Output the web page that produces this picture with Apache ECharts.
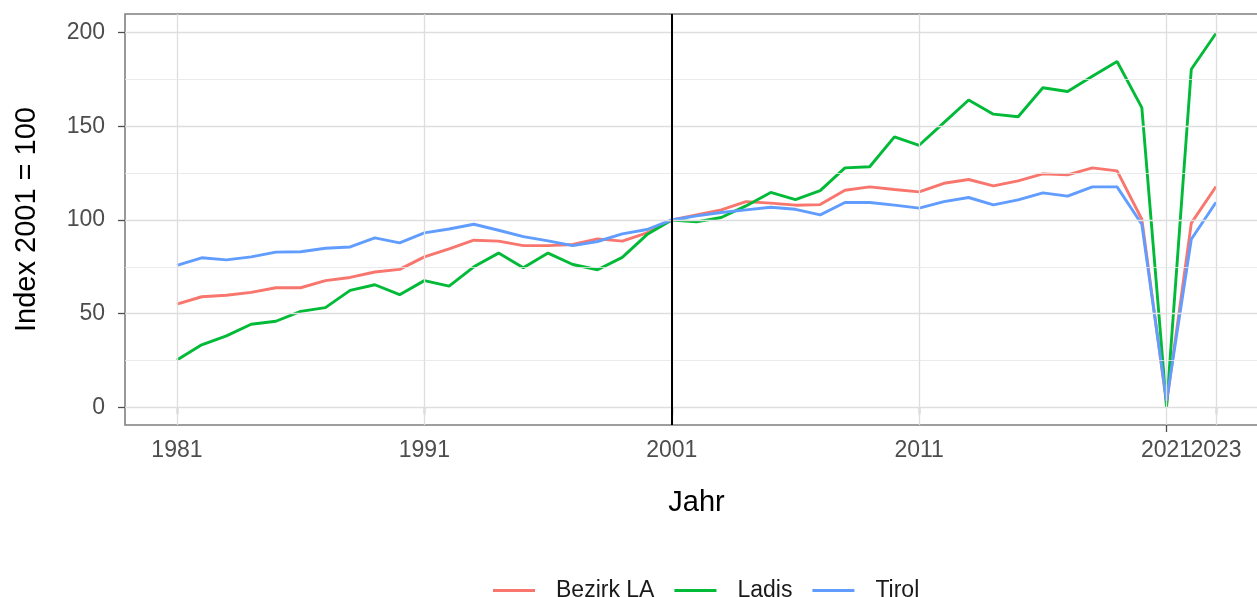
<!DOCTYPE html>
<html>
<head>
<meta charset="utf-8">
<script src="https://cdn.jsdelivr.net/npm/echarts@6/dist/echarts.min.js"></script>
<style>html,body{margin:0;padding:0;background:#fff}#c{width:1257px;height:597px}</style>
</head>
<body>
<div id="c"></div>
<script>
const years = [1981,1982,1983,1984,1985,1986,1987,1988,1989,1990,1991,1992,1993,1994,1995,1996,1997,1998,1999,2000,
  2001,2002,2003,2004,2005,2006,2007,2008,2009,2010,2011,2012,2013,2014,2015,2016,2017,2018,2019,2020,2021,2022,2023];
const bezirkLA = [55.0,59.0,59.8,61.3,63.8,63.8,67.6,69.3,72.2,73.6,80.3,84.6,89.2,88.7,86.3,86.3,86.9,89.9,88.7,93.1,
  100,102.7,105.4,109.8,109.0,107.9,108.2,115.9,117.7,116.3,115.0,119.6,121.6,118.2,120.9,124.6,124.1,127.8,126.2,100.4,1.8,98.3,117.9];
const ladis = [25.2,33.3,38.1,44.3,45.9,51.2,53.2,62.4,65.4,60.1,67.6,64.7,75.0,82.3,74.5,82.3,76.2,73.4,80.0,92.2,
  100,99.0,101.3,107.5,114.7,110.9,115.7,127.8,128.4,144.4,139.9,152.0,164.1,156.5,155.1,170.6,168.6,176.8,184.6,160.0,0,180.5,199.7];
const tirol = [75.7,79.8,78.7,80.3,82.8,83.0,84.9,85.6,90.4,87.8,93.1,95.2,97.7,94.5,91.1,88.8,86.3,88.5,92.6,94.9,
  100,102.2,104.0,105.4,106.8,105.7,102.7,109.3,109.3,107.9,106.3,109.8,112.0,108.1,110.7,114.5,112.7,117.7,117.7,97.7,3.4,89.7,109.5];
const xTicks = [1981,1991,2001,2011,2021,2023];
const xTicksMain = [1981,1991,2001,2011,2023];
const xTicksExtra = [2021];
const yTicks = [0,50,100,150,200];
const yMinor = [25,75,125,175];
const refYear = 2001;

const seriesNames = ['Bezirk LA','Ladis','Tirol'];
const seriesValues = [bezirkLA, ladis, tirol];
const colors = ['#F8766D','#00BA38','#619CFF'];
const FONT = "'Liberation Sans', Arial, sans-serif";

const chart = echarts.init(document.getElementById('c'), null, {renderer:'canvas'});

const gridLines = [];
xTicks.forEach(v => gridLines.push({xAxis:v, lineStyle:{color:'#dedede', width:1.3, type:'solid'}}));
yTicks.forEach(v => gridLines.push({yAxis:v, lineStyle:{color:'#dedede', width:1.3, type:'solid'}}));
yMinor.forEach(v => gridLines.push({yAxis:v, lineStyle:{color:'#e6e6e6', width:0.8, type:'solid'}}));

const series = [{
  name:'_grid', type:'line', data:[], z:1, silent:true,
  markLine:{silent:true, symbol:['none','none'], label:{show:false}, animation:false, data:gridLines}
},{
  name:'_ref', type:'line', data:[], z:2, silent:true,
  markLine:{silent:true, symbol:['none','none'], label:{show:false}, animation:false,
    data:[{xAxis:refYear, lineStyle:{color:'#000', width:2, type:'solid'}}]}
}];
seriesNames.forEach((n,i) => {
  series.push({
    name:n, type:'line', z:3, symbol:'none', showSymbol:false,
    data: years.map((y,k) => [y, seriesValues[i][k]]),
    lineStyle:{color:colors[i], width:2.9}, itemStyle:{color:colors[i]},
    animation:false
  });
});

function xAxisDef(ticks, withName){
  return {
    type:'value', min:1978.9, max:2025.1, position:'bottom', offset:0,
    name: withName ? 'Jahr' : '', nameLocation:'middle', nameGap:63,
    nameTextStyle:{fontFamily:FONT, fontSize:29, color:'#000'},
    axisLine:{show:false},
    axisTick:{show:true, length:7, customValues:ticks, lineStyle:{color:'#4d4d4d', width:1.3}},
    axisLabel:{customValues:ticks, margin:14, hideOverlap:false,
      fontFamily:FONT, fontSize:23, color:'#4d4d4d', formatter:v=>String(v)},
    splitLine:{show:false}
  };
}

chart.setOption({
  animation:false,
  backgroundColor:'#fff',
  grid:{left:125, right:-11, top:14, bottom:172, outerBoundsMode:'none', containLabel:false,
    show:true, borderColor:'#7f7f7f', borderWidth:1.6, backgroundColor:'transparent'},
  legend:{
    data:seriesNames, left:488, top:574, icon:'rect', itemWidth:42, itemHeight:3, itemGap:20,
    textStyle:{fontFamily:FONT, fontSize:23, color:'#1a1a1a', padding:[0,0,0,16]}
  },
  xAxis:[xAxisDef(xTicksMain, true), xAxisDef(xTicksExtra, false)],
  yAxis:{
    type:'value', min:-9.5, max:210,
    name:'Index 2001 = 100', nameLocation:'middle', nameGap:84, nameRotate:90,
    nameTextStyle:{fontFamily:FONT, fontSize:29, color:'#000'},
    axisLine:{show:false},
    axisTick:{show:true, length:7, customValues:yTicks, lineStyle:{color:'#4d4d4d', width:1.3}},
    axisLabel:{customValues:yTicks, margin:20, fontFamily:FONT, fontSize:23, color:'#4d4d4d'},
    splitLine:{show:false}
  },
  series:series
});
</script>
</body>
</html>
